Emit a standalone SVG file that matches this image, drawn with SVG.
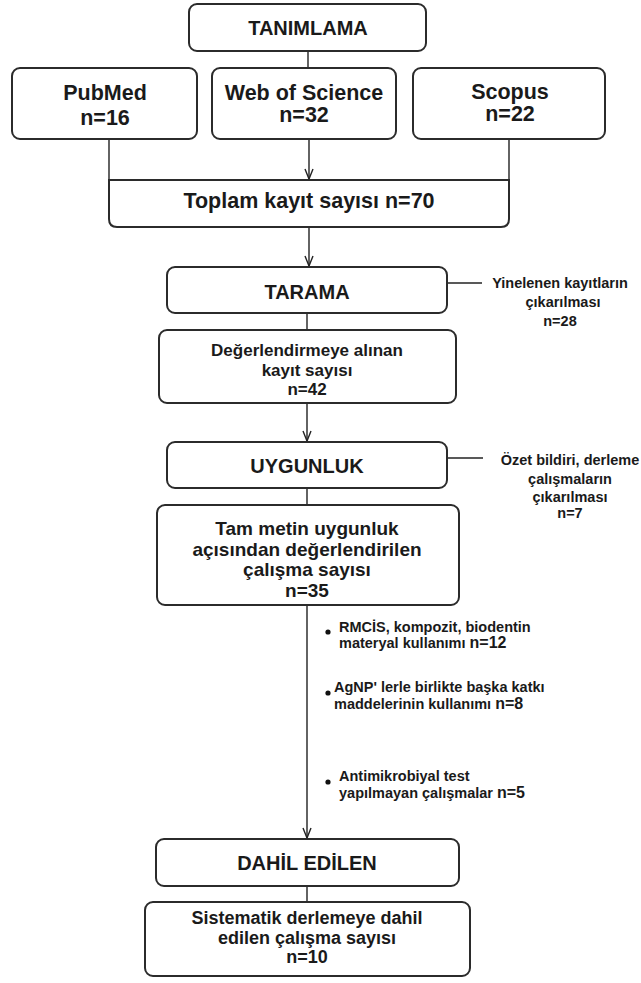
<svg xmlns="http://www.w3.org/2000/svg" width="641" height="983" viewBox="0 0 641 983">
<defs>
<style>
.box{fill:#fff;stroke:#2b2b2b;stroke-width:2}
.t{font-family:"Liberation Sans",Arial,sans-serif;font-weight:bold;fill:#1a1a1a;text-anchor:middle;dominant-baseline:central}
.s{font-family:"Liberation Sans",Arial,sans-serif;font-weight:bold;fill:#1a1a1a;font-size:14.5px}
.c{stroke:#222;stroke-width:1.4;fill:none}
</style>
<marker id="arr" viewBox="0 0 12 10" refX="11" refY="5" markerWidth="12" markerHeight="10" markerUnits="userSpaceOnUse" orient="auto">
<path d="M1,1 L11,5 L1,9" fill="none" stroke="#222" stroke-width="1.4"/>
</marker>
</defs>
<rect width="641" height="983" fill="#fff"/>
<g id="connectors">
<line class="c" x1="308" y1="51" x2="308" y2="68"/>
<line class="c" x1="109" y1="139" x2="109" y2="180"/>
<line class="c" x1="509" y1="139" x2="509" y2="180"/>
<line class="c" x1="309" y1="139" x2="309" y2="179" marker-end="url(#arr)"/>
<line class="c" x1="309" y1="227" x2="309" y2="266" marker-end="url(#arr)"/>
<line class="c" x1="307" y1="313" x2="307" y2="330"/>
<line class="c" x1="307" y1="403" x2="307" y2="441" marker-end="url(#arr)"/>
<line class="c" x1="307" y1="488" x2="307" y2="505"/>
<line class="c" x1="307" y1="605" x2="307" y2="838" marker-end="url(#arr)"/>
<line class="c" x1="307" y1="886" x2="307" y2="902"/>
<line class="c" x1="447" y1="283" x2="482" y2="283"/>
<line class="c" x1="447" y1="458" x2="483" y2="458"/>
</g>
<g id="tanimlama">
<rect class="box" x="189" y="4" width="237" height="47" rx="8"/>
<text class="t" x="308" y="28" font-size="20">TANIMLAMA</text>
</g>
<g id="pubmed">
<rect class="box" x="12" y="68" width="185" height="71" rx="8"/>
<text class="t" x="105" y="93" font-size="21.5">PubMed</text>
<text class="t" x="105" y="118" font-size="21.5">n=16</text>
</g>
<g id="wos">
<rect class="box" x="212" y="68" width="184" height="71" rx="8"/>
<text class="t" x="304" y="93" font-size="21.5">Web of Science</text>
<text class="t" x="304" y="115" font-size="21.5">n=32</text>
</g>
<g id="scopus">
<rect class="box" x="413" y="68" width="192" height="71" rx="8"/>
<text class="t" x="510" y="92" font-size="21.5">Scopus</text>
<text class="t" x="510" y="114" font-size="21.5">n=22</text>
</g>
<g id="toplam">
<path class="box" d="M109,180 H509 V219 Q509,227 501,227 H117 Q109,227 109,219 Z"/>
<text class="t" x="309" y="201" font-size="21.5">Toplam kayıt sayısı n=70</text>
</g>
<g id="tarama">
<rect class="box" x="167" y="267" width="280" height="46" rx="8"/>
<text class="t" x="307" y="292" font-size="20">TARAMA</text>
</g>
<g id="yinelenen">
<text class="t" x="560" y="283" font-size="14.5">Yinelenen kayıtların</text>
<text class="t" x="563" y="302" font-size="14.5">çıkarılması</text>
<text class="t" x="560" y="321" font-size="14.5">n=28</text>
</g>
<g id="degerlendirmeye">
<rect class="box" x="159" y="330" width="297" height="73" rx="8"/>
<text class="t" x="307" y="350" font-size="17">Değerlendirmeye alınan</text>
<text class="t" x="307" y="370" font-size="17">kayıt sayısı</text>
<text class="t" x="307" y="389" font-size="17">n=42</text>
</g>
<g id="uygunluk">
<rect class="box" x="167" y="442" width="280" height="46" rx="8"/>
<text class="t" x="307" y="466" font-size="20">UYGUNLUK</text>
</g>
<g id="ozet">
<text class="t" x="570" y="460" font-size="14.5">Özet bildiri, derleme</text>
<text class="t" x="570" y="479" font-size="14.5">çalışmaların</text>
<text class="t" x="570" y="497" font-size="14.5">çıkarılması</text>
<text class="t" x="570" y="513" font-size="14.5">n=7</text>
</g>
<g id="tammetin">
<rect class="box" x="157" y="505" width="302" height="100" rx="8"/>
<text class="t" x="307" y="528" font-size="19">Tam metin uygunluk</text>
<text class="t" x="307" y="549" font-size="19">açısından değerlendirilen</text>
<text class="t" x="307" y="569" font-size="19">çalışma sayısı</text>
<text class="t" x="307" y="590" font-size="19">n=35</text>
</g>
<g id="exclusions">
<circle cx="328" cy="632" r="2.6" fill="#111"/>
<text class="s" x="339" y="632">RMCİS, kompozit, biodentin</text>
<text class="s" x="339" y="648">materyal kullanımı <tspan font-size="16">n=12</tspan></text>
<circle cx="328" cy="693" r="2.6" fill="#111"/>
<text class="s" x="334" y="692">AgNP' lerle birlikte başka katkı</text>
<text class="s" x="334" y="709">maddelerinin kullanımı  <tspan font-size="16">n=8</tspan></text>
<circle cx="328" cy="782" r="2.6" fill="#111"/>
<text class="s" x="339" y="781">Antimikrobiyal test</text>
<text class="s" x="339" y="798">yapılmayan çalışmalar <tspan font-size="16">n=5</tspan></text>
</g>
<g id="dahil">
<rect class="box" x="156" y="839" width="303" height="47" rx="8"/>
<text class="t" x="307" y="863" font-size="20">DAHİL EDİLEN</text>
</g>
<g id="sistematik">
<rect class="box" x="145" y="902" width="325" height="74" rx="8"/>
<text class="t" x="307" y="918" font-size="18">Sistematik derlemeye dahil</text>
<text class="t" x="307" y="938" font-size="18">edilen çalışma sayısı</text>
<text class="t" x="307" y="957" font-size="18">n=10</text>
</g>
</svg>
